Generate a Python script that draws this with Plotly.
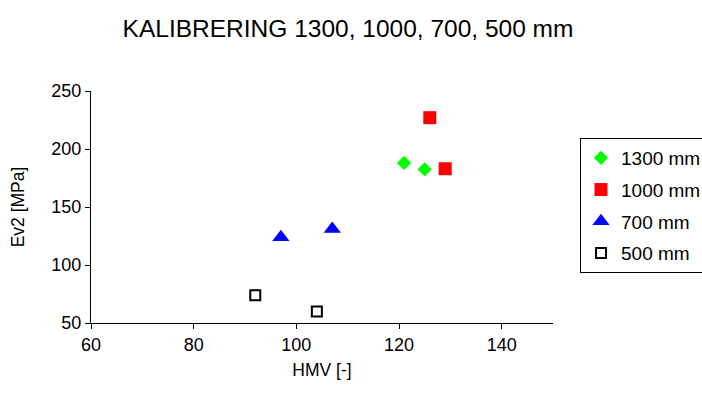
import plotly.graph_objects as go

series_names = ["1300 mm", "1000 mm", "700 mm", "500 mm"]
hmv_1300 = [121, 125]
ev2_1300 = [188, 182.5]
hmv_1000 = [126, 129]
ev2_1000 = [227, 183]
hmv_700 = [97, 107]
ev2_700 = [124, 131]
hmv_500 = [92, 104]
ev2_500 = [74, 60]

FONT = "Liberation Sans, Arial, sans-serif"

fig = go.Figure()
fig.add_trace(go.Scatter(x=hmv_1300, y=ev2_1300, mode="markers", name=series_names[0], legendgroup="a",
                         marker=dict(symbol="diamond", size=11, color="#00ff00", line=dict(width=0))))
fig.add_trace(go.Scatter(x=hmv_1000, y=ev2_1000, mode="markers", name=series_names[1], legendgroup="b",
                         marker=dict(symbol="square", size=13, color="#ff0000", line=dict(width=0))))
fig.add_trace(go.Scatter(x=hmv_700, y=ev2_700, mode="markers", name=series_names[2], legendgroup="c",
                         marker=dict(symbol="triangle-up", size=15, color="#0000ff", line=dict(width=0))))
fig.add_trace(go.Scatter(x=hmv_500, y=ev2_500, mode="markers", name=series_names[3], legendgroup="d",
                         marker=dict(symbol="square-open", size=10, color="#000000", line=dict(width=2))))

fig.update_layout(
    width=702, height=399,
    margin=dict(l=91, r=149, t=91, b=76, autoexpand=False),
    paper_bgcolor="white", plot_bgcolor="white",
    font=dict(family=FONT, size=18, color="black"),
    title=dict(text="KALIBRERING 1300, 1000, 700, 500 mm", x=348/702, xanchor="center",
               y=1 - 28/399, yanchor="middle", font=dict(size=24.5)),
    showlegend=True,
    legend=dict(x=(580 - 91) / 462, xanchor="left", y=(323 - 138) / 232, yanchor="top",
                bordercolor="black", borderwidth=1, bgcolor="white", traceorder="grouped",
                font=dict(size=19), itemwidth=30, tracegroupgap=4,
                entrywidth=110, entrywidthmode="pixels"),
    xaxis=dict(range=[60, 150], tickvals=[60, 80, 100, 120, 140], showgrid=False, zeroline=False,
               showline=True, linecolor="black", linewidth=1, ticks="outside", ticklen=5,
               tickcolor="black", tickfont=dict(size=18),
               title=dict(text="HMV [-]", standoff=10, font=dict(size=17.5))),
    yaxis=dict(range=[50, 250], tickvals=[50, 100, 150, 200, 250], showgrid=False, zeroline=False,
               showline=True, linecolor="black", linewidth=1, ticks="outside", ticklen=5,
               tickcolor="black", tickfont=dict(size=18),
               title=dict(text="Ev2 [MPa]", standoff=22, font=dict(size=17.5))),
)

fig.write_html("out.html")
